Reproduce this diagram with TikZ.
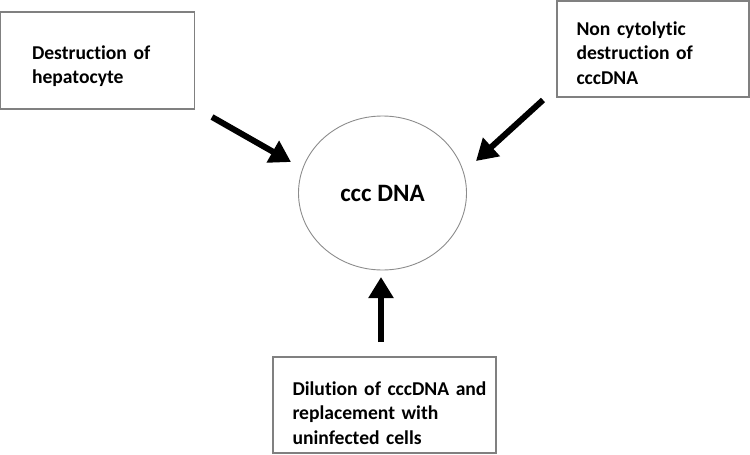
\documentclass[tikz,border=0pt]{standalone}
\usepackage{fontspec}
\setmainfont[Ligatures=NoCommon]{Carlito}
\usetikzlibrary{arrows.meta}
\usetikzlibrary{shapes}

\begin{document}
\begin{tikzpicture}[x=1pt,y=1pt,yscale=-1,xscale=1,
    causebox/.style={draw={rgb,255:red,128;green,128;blue,128},line width=1.4,inner sep=0pt},
    causetext/.style={align=left,anchor=north west,inner sep=0pt,text width=210,
      font=\bfseries\fontsize{19.6}{24.5}\selectfont},
    bigarrow/.style={line width=6,-{Triangle[length=21pt,width=24pt]}}]
      \useasboundingbox (0,0) rectangle (750,455);
      % boxes and the circle
      \node [causebox,minimum width=194,minimum height=97] (hepato) at (97.5,60.5) {};
      \node [causebox,minimum width=192,minimum height=96] (noncyto) at (653,49) {};
      \node [causebox,minimum width=223,minimum height=96] (dilution) at (384.5,405) {};
      \node [causetext] (hepatoTxt) at ([xshift=32,yshift=34]hepato.north west) {Destruction of\\hepatocyte};
      \node [causetext] (noncytoTxt) at ([xshift=20,yshift=21]noncyto.north west) {Non cytolytic\\destruction of\\cccDNA};
      \node [causetext] (dilutionTxt) at ([xshift=20,yshift=25]dilution.north west) {Dilution of cccDNA and\\replacement with\\uninfected cells};
      \node [draw={rgb,255:red,140;green,140;blue,140},line width=0.9,ellipse,minimum width=168,minimum height=154,
             font=\bfseries\fontsize{25}{29}\selectfont] (cccdna) at (382.5,193) {ccc DNA};
      % arrow ends
      \coordinate (tailA) at (212,117);
      \coordinate (tipA)  at (291,162);
      \coordinate (tailB) at (543,100);
      \coordinate (tipB)  at (476,161);
      \coordinate (tailC) at (381,342);
      \coordinate (tipC)  at (381,277);
      \draw [bigarrow] (tailA) -- (tipA);
      \draw [bigarrow] (tailB) -- (tipB);
      \draw [bigarrow] (tailC) -- (tipC);
    \end{tikzpicture}
\end{document}
